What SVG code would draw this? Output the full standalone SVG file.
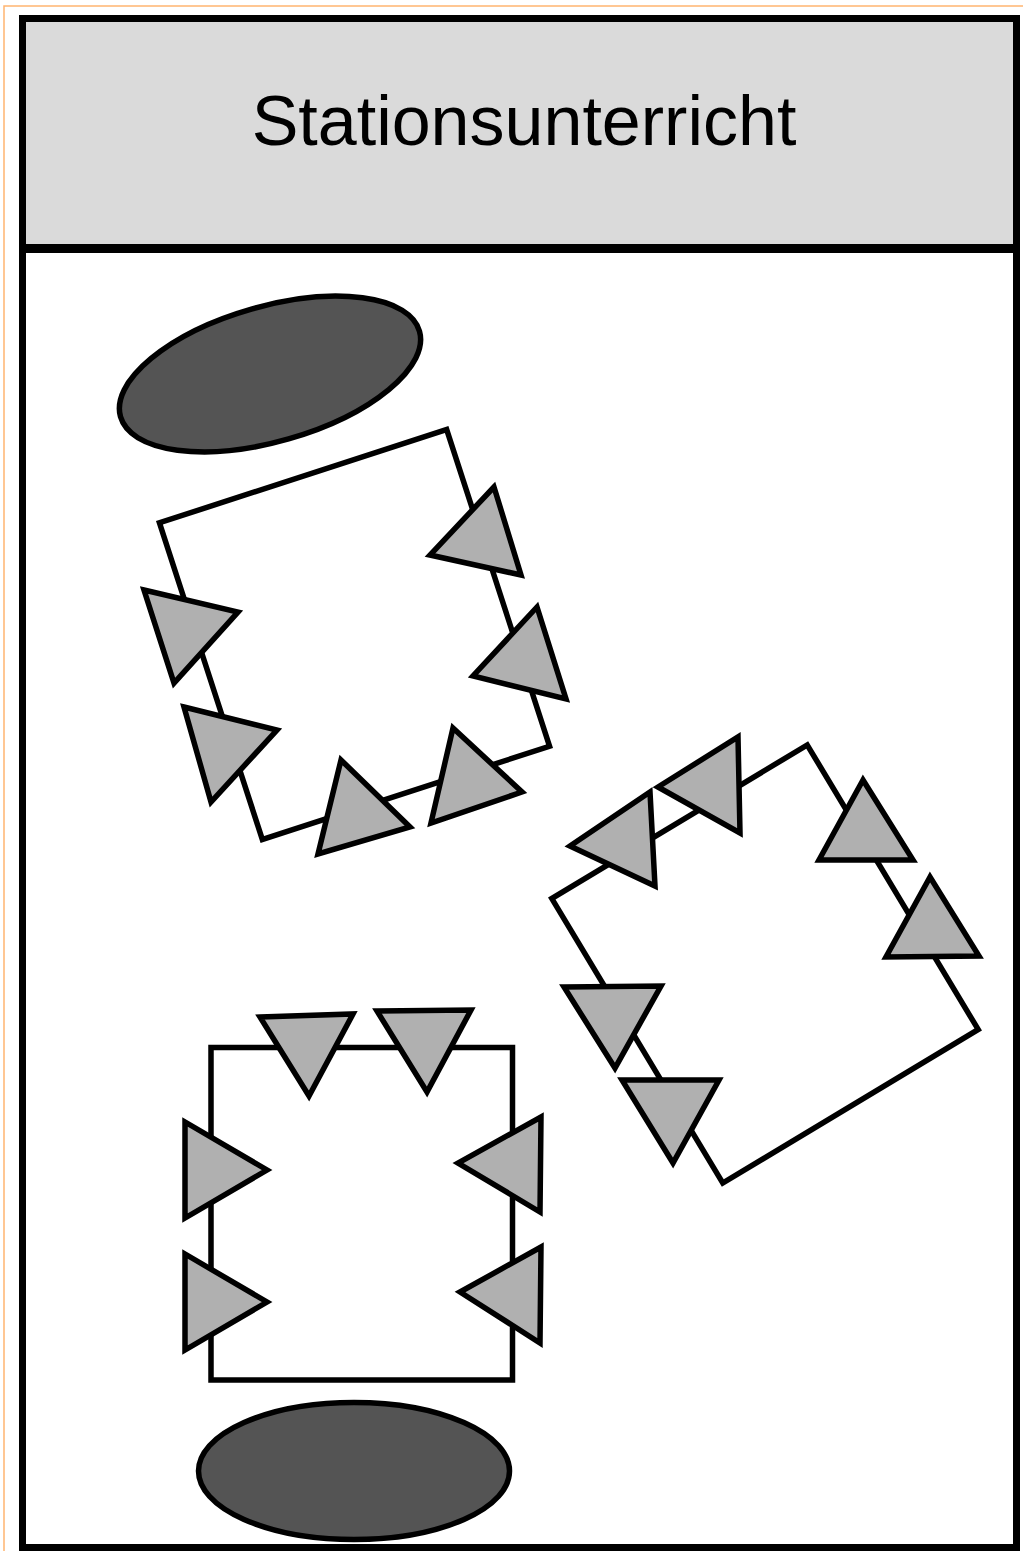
<svg xmlns="http://www.w3.org/2000/svg" width="1023" height="1551" viewBox="0 0 1023 1551">
  <style>
    .frame { fill: #ffffff; stroke: #000000; stroke-width: 7; }
    .header { fill: #dadada; stroke: none; }
    .sep { stroke: #000000; stroke-width: 9; }
    .title { font-family: "Liberation Sans", Arial, sans-serif; font-size: 70px; fill: #000000; }
    .table { fill: #ffffff; stroke: #000000; stroke-width: 5.5; }
    .seat { fill: #b0b0b0; stroke: #000000; stroke-width: 5.5; stroke-linejoin: miter; }
    .board { fill: #545454; stroke: #000000; stroke-width: 5.5; }
  </style>
  <rect x="0" y="0" width="1023" height="1551" fill="#ffffff"/>
  <rect x="4" y="6" width="1030" height="1560" fill="none" stroke="#ffb570" stroke-width="1.5"/>

  <g id="lane">
    <rect class="frame" x="22.5" y="18.5" width="994" height="1529"/>
    <rect class="header" x="26" y="22" width="987" height="222"/>
    <line class="sep" x1="26" y1="248.5" x2="1013" y2="248.5"/>
    <text class="title" x="524" y="145" text-anchor="middle">Stationsunterricht</text>
  </g>

  <g id="board-top">
    <ellipse class="board" cx="270" cy="374" rx="155.5" ry="67.5" transform="rotate(-16 270 374)"/>
  </g>

  <g id="table-1">
    <rect class="table" x="-151" y="-166.5" width="302" height="333" transform="translate(354.5,634.5) rotate(-18)"/>
    <polygon class="seat" points="494,487 430,555 521,575"/>
    <polygon class="seat" points="537,607 473,676 566,699"/>
    <polygon class="seat" points="144,590 238,612 174,683"/>
    <polygon class="seat" points="184,707 277,730 211,802"/>
    <polygon class="seat" points="341,760 410,827 318,854"/>
    <polygon class="seat" points="453,728 522,792 431,823"/>
  </g>

  <g id="table-2">
    <rect class="table" x="-149" y="-166" width="298" height="332" transform="translate(765,964) rotate(-31)"/>
    <polygon class="seat" points="570,846 650,792 655,886"/>
    <polygon class="seat" points="658,787 738,737 740,833"/>
    <polygon class="seat" points="863,780 819,860 913,860"/>
    <polygon class="seat" points="930,877 886,957 979,956"/>
    <polygon class="seat" points="564,987 661,986 615,1068"/>
    <polygon class="seat" points="622,1080 719,1080 673,1163"/>
  </g>

  <g id="table-3">
    <rect class="table" x="211" y="1047.5" width="301.5" height="332.5"/>
    <polygon class="seat" points="260,1017 353,1014 309,1096"/>
    <polygon class="seat" points="377,1011 471,1010 427,1092"/>
    <polygon class="seat" points="185,1122 185,1218 267,1170"/>
    <polygon class="seat" points="185,1254 185,1350 267,1302"/>
    <polygon class="seat" points="541,1117 540,1212 458,1163"/>
    <polygon class="seat" points="541,1247 540,1343 460,1292"/>
  </g>

  <g id="board-bottom">
    <ellipse class="board" cx="354" cy="1471" rx="155.5" ry="68.5"/>
  </g>

  <g id="connectors"/>
</svg>
